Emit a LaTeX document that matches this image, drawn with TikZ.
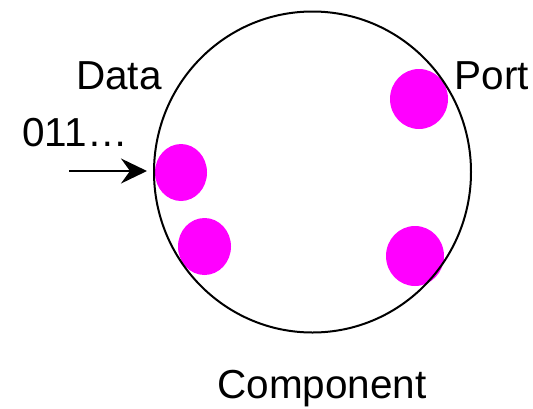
\documentclass[tikz,border=0pt]{standalone}
\usepackage{fontspec}
\setmainfont{Liberation Sans}
\usetikzlibrary{arrows.meta,shapes.geometric}
\definecolor{portpink}{RGB}{255,0,255}
\begin{document}
\begin{tikzpicture}[x=1pt,y=-1pt,
  lbl/.style={anchor=base,inner sep=0pt,font=\fontsize{40.5}{48}\selectfont},
  portdot/.style={ellipse,fill=portpink,draw=none,inner sep=0pt},
  flow/.style={line width=2pt,-{Stealth[length=26pt,width=25pt,inset=9pt]}}]
\useasboundingbox (0,0) rectangle (533,408);
\node[portdot,minimum width=52pt,minimum height=57pt] (p1) at (181,172.5) {};
\node[portdot,minimum width=53pt,minimum height=57pt] (p2) at (204.5,246.5) {};
\node[portdot,minimum width=58pt,minimum height=60pt] (p3) at (419,99) {};
\node[portdot,minimum width=58pt,minimum height=60pt] (p4) at (415,256) {};
\node[ellipse,draw=black,line width=2pt,minimum width=317pt,minimum height=321pt,inner sep=0pt] (big) at (312.5,172) {};
\node[lbl] (data) at (119,89) {Data};
\node[lbl] (port) at (492,89) {Port};
\node[lbl] (bits) at (75,146) {011…};
\node[lbl] (cname) at (322,398) {Component};
\coordinate (src) at (69,171);
\draw[flow] (src) -- ([xshift=-6pt]src -| big.west);
\end{tikzpicture}
\end{document}
